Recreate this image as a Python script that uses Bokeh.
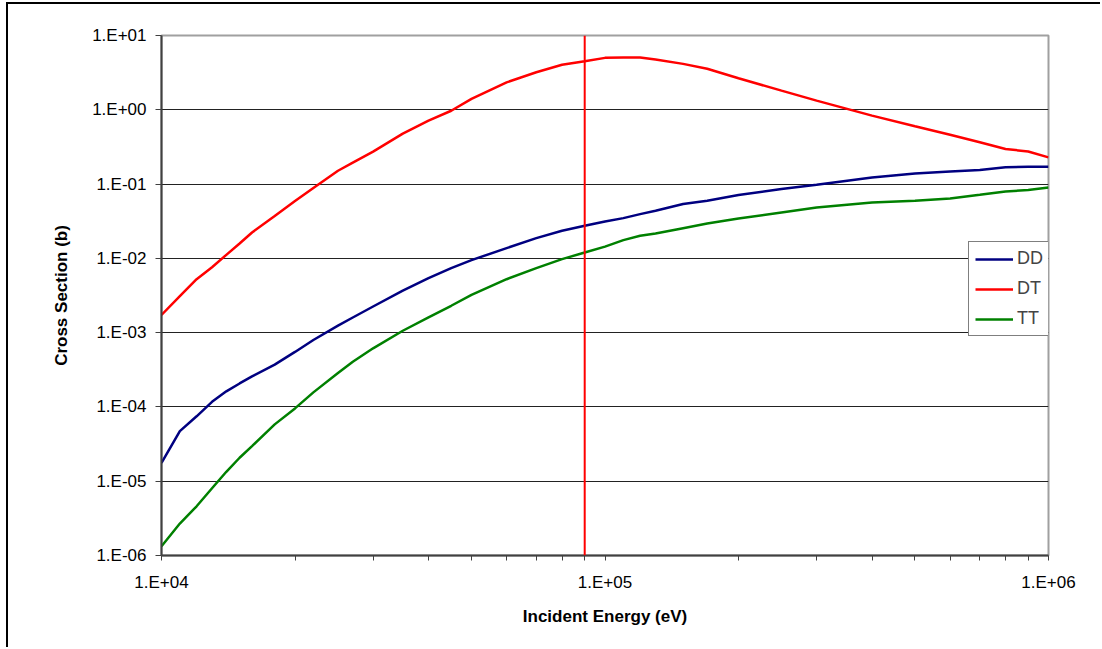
from bokeh.plotting import figure
from bokeh.models import (FixedTicker, CustomJSTickFormatter, Span, Legend, LegendItem,
                          ColumnDataSource)
from bokeh.embed import file_html
from bokeh.resources import INLINE

# ---------------- data ----------------
energy_ev = [1.0e4, 1.1e4, 1.2e4, 1.3e4, 1.4e4, 1.5e4, 1.6e4, 1.8e4, 2.0e4, 2.2e4, 2.5e4,
             2.7e4, 3.0e4, 3.5e4, 4.0e4, 4.5e4, 5.0e4, 6.0e4, 7.0e4, 8.0e4, 9.0e4, 1.0e5,
             1.1e5, 1.2e5, 1.3e5, 1.5e5, 1.7e5, 2.0e5, 2.5e5, 3.0e5, 4.0e5, 5.0e5, 6.0e5,
             7.0e5, 8.0e5, 9.0e5, 1.0e6]

dd_barn = [1.77e-5, 4.72e-5, 7.48e-5, 1.17e-4, 1.62e-4, 2.07e-4, 2.58e-4, 3.71e-4, 5.50e-4,
           7.96e-4, 1.24e-3, 1.60e-3, 2.25e-3, 3.68e-3, 5.41e-3, 7.40e-3, 9.46e-3, 0.01374,
           0.0187, 0.0235, 0.0274, 0.0313, 0.0348, 0.0394, 0.0438, 0.0538, 0.0596, 0.0711,
           0.0857, 0.098, 0.123, 0.139, 0.148, 0.155, 0.168, 0.171, 0.171]

dt_barn = [0.00173, 0.00309, 0.00524, 0.00760, 0.01114, 0.01585, 0.0223, 0.0371, 0.0590,
           0.0887, 0.151, 0.194, 0.273, 0.478, 0.714, 0.97, 1.40, 2.34, 3.20, 4.03, 4.51,
           5.00, 5.06, 5.06, 4.74, 4.15, 3.56, 2.66, 1.81, 1.33, 0.834, 0.600, 0.462, 0.365,
           0.296, 0.275, 0.229]

tt_barn = [1.33e-6, 2.69e-6, 4.60e-6, 8.05e-6, 1.34e-5, 2.07e-5, 2.97e-5, 5.82e-5, 9.55e-5,
           1.57e-4, 2.86e-4, 4.06e-4, 6.15e-4, 1.06e-3, 1.61e-3, 2.30e-3, 3.22e-3, 5.24e-3,
           7.38e-3, 9.75e-3, 0.01197, 0.0144, 0.0176, 0.0201, 0.0216, 0.0255, 0.0294, 0.0344,
           0.0415, 0.0484, 0.0566, 0.0596, 0.0641, 0.0718, 0.0796, 0.0832, 0.0902]

series_names = ["DD", "DT", "TT"]
series_colors = ["#000080", "#FF0000", "#008000"]

x_major_ticks = [1e4, 1e5, 1e6]
x_minor_ticks = [2e4, 3e4, 4e4, 5e4, 6e4, 7e4, 8e4, 9e4,
                 2e5, 3e5, 4e5, 5e5, 6e5, 7e5, 8e5, 9e5]
y_major_ticks = [1e-6, 1e-5, 1e-4, 1e-3, 1e-2, 1e-1, 1e0, 1e1]

marker_energy = 9.0e4

x_title = "Incident Energy (eV)"
y_title = "Cross Section (b)"

FONT = "Liberation Sans"

# ---------------- figure ----------------
p = figure(width=1094, height=645, x_axis_type="log", y_axis_type="log",
           x_range=(1e4, 1e6), y_range=(1e-6, 1e1),
           output_backend="svg", toolbar_location=None,
           min_border_left=153, min_border_right=54, min_border_top=31, min_border_bottom=94)
p.styles = {"border-top": "2px solid black", "border-left": "2px solid black",
            "margin-top": "2px", "margin-left": "6px"}
p.background_fill_color = "white"
p.border_fill_color = "white"
p.outline_line_color = "#a0a0a0"
p.outline_line_width = 2

fmt = CustomJSTickFormatter(code="""
const e = Math.round(Math.log10(tick));
const s = e < 0 ? "-" : "+";
const a = Math.abs(e);
return "1.E" + s + (a < 10 ? "0" + a : "" + a);
""")

xa = p.xaxis[0]
xa.ticker = FixedTicker(ticks=x_major_ticks, minor_ticks=x_minor_ticks)
xa.formatter = fmt
ya = p.yaxis[0]
ya.ticker = FixedTicker(ticks=y_major_ticks, minor_ticks=[])
ya.formatter = fmt

for ax in (xa, ya):
    ax.axis_line_color = "#404040"
    ax.axis_line_width = 2
    ax.major_tick_line_color = "#404040"
    ax.major_tick_line_width = 1
    ax.major_tick_in = 0
    ax.minor_tick_in = 0
    ax.major_label_text_font = FONT
    ax.major_label_text_font_size = "17px"
    ax.major_label_text_color = "black"
    ax.axis_label_text_font = FONT
    ax.axis_label_text_font_size = "17px"
    ax.axis_label_text_font_style = "bold"
    ax.axis_label_text_color = "black"

xa.major_tick_out = 5
xa.minor_tick_out = 5
xa.minor_tick_line_color = "#404040"
xa.major_label_standoff = 12
xa.axis_label = x_title
xa.axis_label_standoff = 12

ya.major_tick_out = 6
ya.minor_tick_line_color = None
ya.major_label_standoff = 9
ya.axis_label = y_title
ya.axis_label_standoff = 18

p.xgrid.grid_line_color = None
p.ygrid.grid_line_color = "#222222"
p.ygrid.grid_line_width = 1

src = ColumnDataSource(dict(e=energy_ev, DD=dd_barn, DT=dt_barn, TT=tt_barn))
renderers = []
for name, col in zip(series_names, series_colors):
    r = p.line("e", name, source=src, line_color=col, line_width=2.5)
    renderers.append(r)

p.add_layout(Span(location=marker_energy, dimension="height", line_color="#FF0000",
                  line_width=2))

legend = Legend(items=[LegendItem(label=n, renderers=[r]) for n, r in zip(series_names, renderers)],
                location=(807, 219), orientation="vertical",
                border_line_color="black", border_line_width=1,
                background_fill_color="white", background_fill_alpha=1.0,
                label_text_font=FONT, label_text_font_size="18px",
                glyph_width=38, glyph_height=20, label_height=20,
                label_standoff=4, spacing=9, padding=6, margin=0)
p.add_layout(legend)

open("out.html", "w").write(file_html(p, INLINE))
